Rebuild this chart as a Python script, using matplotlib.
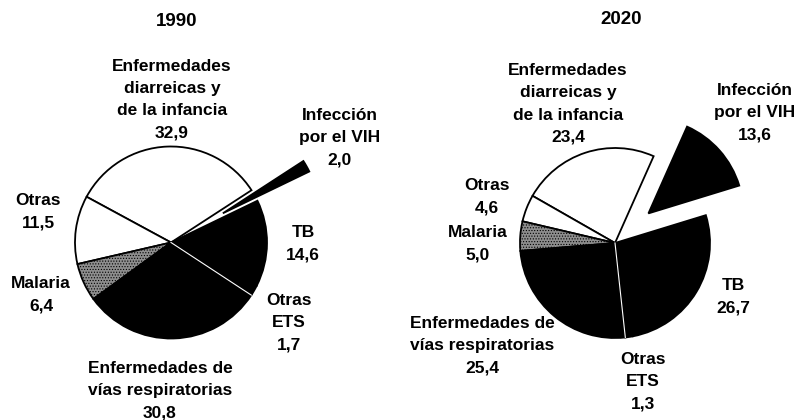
import numpy as np
import matplotlib.pyplot as plt

# Datos (porcentajes)
years = ["1990", "2020"]
labels = ["Enfermedades\ndiarreicas y\nde la infancia", "Otras", "Malaria",
          "Enfermedades de\nvías respiratorias", "Otras\nETS", "TB",
          "Infección\npor el VIH"]
vals_1990 = [32.9, 11.5, 6.4, 30.8, 1.7, 14.6, 2.0]
vals_2020 = [23.4, 4.6, 5.0, 25.4, 1.3, 26.7, 13.6]

# Estilo de cada sector
colors = ["white", "white", "#8e8e8e", "black", "black", "black", "black"]
hatches = [None, None, "......", None, None, None, None]

W, H = 797, 420
plt.rcParams["font.family"] = ["Liberation Sans", "DejaVu Sans"]
plt.rcParams["hatch.linewidth"] = 0.5

fig = plt.figure(figsize=(W / 100, H / 100), dpi=100)
ax = fig.add_axes([0, 0, 1, 1])

# posiciones en pixeles (x, y desde arriba)
pies = [
    dict(vals=vals_1990, center=(171, 242.5), r=96, start=33, explode=0.62,
         title=(177, 22),
         pos=[(172, 99.5), (38, 212), (41, 295), (160, 390.5), (289, 322.5),
              (303, 244), (340, 137.5)]),
    dict(vals=vals_2020, center=(615, 243), r=95, start=66, explode=0.47,
         title=(621, 19),
         pos=[(568, 104), (487, 196.5), (478, 244), (482, 345.5), (643, 382),
              (733, 297), (755, 112.5)]),
]

for year, p in zip(years, pies):
    cx, cy = p["center"][0], H - p["center"][1]
    # explode de matplotlib va en unidades de datos
    expl = [0, 0, 0, 0, 0, 0, p["explode"] * p["r"]]
    wedges, _ = ax.pie(p["vals"], colors=colors, startangle=p["start"],
                       counterclock=True, center=(cx, cy), radius=p["r"],
                       explode=expl,
                       wedgeprops=dict(edgecolor="black", linewidth=1.3))
    for w, h in zip(wedges, hatches):
        if h:
            w.set_hatch(h)
    # linea blanca entre vias respiratorias y otras ETS
    ang = np.deg2rad(p["start"] + sum(p["vals"][:4]) / 100 * 360)
    ax.plot([cx, cx + p["r"] * np.cos(ang)], [cy, cy + p["r"] * np.sin(ang)],
            color="white", lw=0.8)

    ax.text(p["title"][0], H - p["title"][1], year, ha="center", va="center",
            fontsize=13.5, fontweight="bold")
    for lab, v, (x, y) in zip(labels, p["vals"], p["pos"]):
        txt = lab + "\n" + f"{v:.1f}".replace(".", ",")
        ax.text(x, H - y, txt, ha="center", va="center", multialignment="center",
                fontsize=12.5, fontweight="bold", linespacing=1.6)

ax.set_xlim(0, W)
ax.set_ylim(0, H)
ax.set_aspect("equal")
ax.axis("off")
plt.savefig("out.png", dpi=100)
